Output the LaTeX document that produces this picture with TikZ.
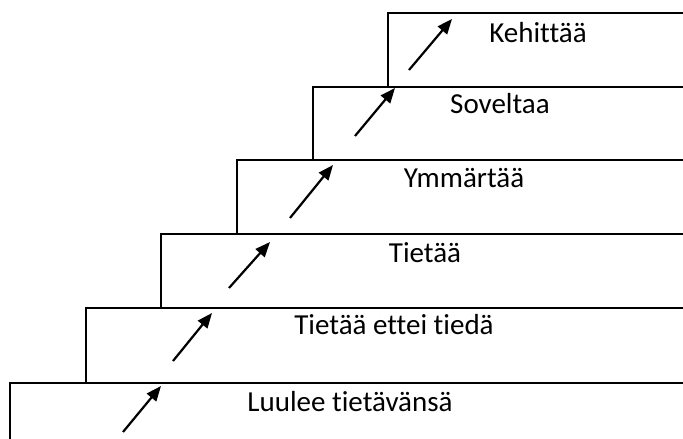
\documentclass[tikz,border=0pt]{standalone}
\usepackage{fontspec}
\setmainfont{Carlito}[Ligatures=NoCommon]
\usetikzlibrary{arrows.meta}
\begin{document}
\begin{tikzpicture}[x=1pt,y=-1pt,stair/.style={draw=black, line width=2.4pt}]
    \tikzset{stairtext/.style={anchor=base, inner sep=0pt, font=\fontsize{29}{33}\selectfont}}
    \tikzset{climb/.style={-{Triangle[length=15pt,width=12pt]}, line width=2.2pt}}
    \useasboundingbox (0,0) rectangle (683,439);
    \clip (0,0) rectangle (683,439);
    % steps: number / left edge / top / bottom
    \foreach \s/\l/\t/\b in {1/10/383/470, 2/86/308/383, 3/161/234/308, 4/237/160/234, 5/313/87/160, 6/388/13/87} {
    \draw[stair] (\l,\b) rectangle (700,\t);
    }

    \node[stairtext] (t1) at (350,411) {Luulee tietävänsä};
    \node[stairtext] (t2) at (394,334) {Tietää ettei tiedä};
    \node[stairtext] (t3) at (425,262) {Tietää};
    \node[stairtext] (t4) at (464,187) {Ymmärtää};
    \node[stairtext] (t5) at (500,113) {Soveltaa};
    \node[stairtext] (t6) at (538,42) {Kehittää};

    % arrows going up the stairs
    \foreach \s/\xa/\ya/\xb/\yb in {1/123/432/161/386, 2/173/361/212/313, 3/229/288/270/242, 4/290/218/333/165, 5/355/136/395/88, 6/409/70/452/19} {
    \coordinate (a\s) at (\xa,\ya);
    \coordinate (b\s) at (\xb,\yb);
    \draw[climb] (a\s) -- (b\s);
    }
\end{tikzpicture}
\end{document}
